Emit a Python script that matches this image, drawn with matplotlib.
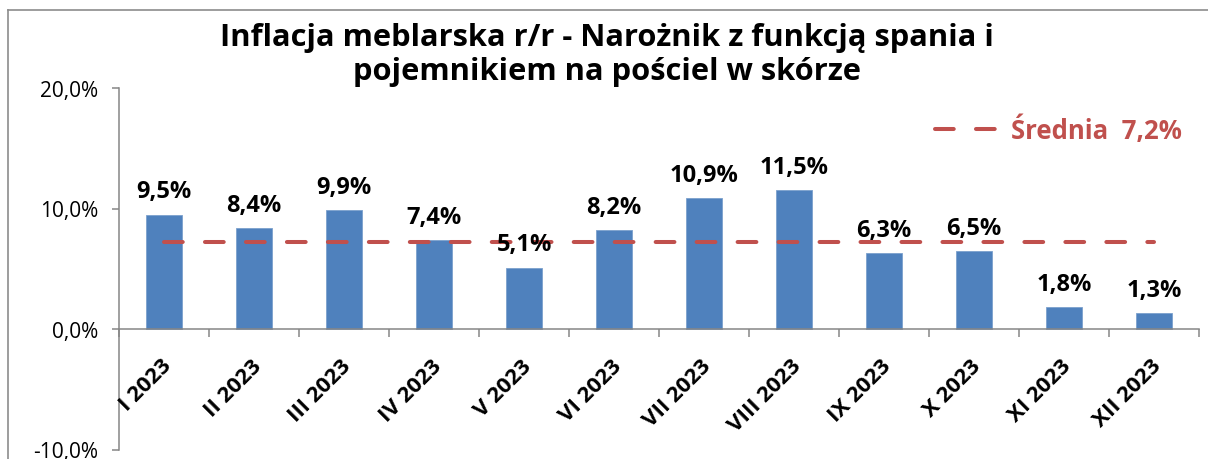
import numpy as np
import matplotlib
matplotlib.use("Agg")
import matplotlib.pyplot as plt
from matplotlib.lines import Line2D

categories = ["I 2023", "II 2023", "III 2023", "IV 2023", "V 2023", "VI 2023",
              "VII 2023", "VIII 2023", "IX 2023", "X 2023", "XI 2023", "XII 2023"]
values = [9.5, 8.4, 9.9, 7.4, 5.1, 8.2, 10.9, 11.5, 6.3, 6.5, 1.8, 1.3]
average = 7.2
yticks = [-10, 0, 10, 20]
title = "Inflacja meblarska r/r - Narożnik z funkcją spania i\npojemnikiem na pościel w skórze"

BLUE = "#4F81BD"
RED = "#C0504D"
GRAY = "#868686"

plt.rcParams['font.family'] = ['Open Sans', 'DejaVu Sans']
plt.rcParams['lines.scale_dashes'] = False

W, H = 1208, 460
fig = plt.figure(figsize=(W / 100, H / 100), dpi=100)
ax = fig.add_axes([119 / W, 1 - 450.5 / H, (1199 - 119) / W, (450.5 - 89) / H])

x = np.arange(len(categories))
ax.bar(x, values, width=0.4, color=BLUE, edgecolor="#7BA0CD", linewidth=0.6, zorder=2)

line, = ax.plot([x[0], x[-1]], [average, average], color=RED, lw=2.9,
                dashes=(13.5, 16), dash_capstyle='round', zorder=3,
                label="Średnia  " + f"{average:.1f}".replace('.', ',') + "%")

for xi, v in zip(x, values):
    ax.annotate(f"{v:.1f}".replace('.', ',') + "%", (xi, v), xytext=(0, 8),
                textcoords='offset points', ha='center', va='bottom',
                fontsize=17, fontweight='bold', color='black', zorder=5)

ax.set_xlim(-0.5, len(categories) - 0.5)
ax.set_ylim(-10, 20)

ax.set_yticks(yticks)
ax.set_yticklabels([f"{t:.1f}".replace('.', ',') + "%" for t in yticks], fontsize=15)

# boundary tick marks; category labels drawn rotated at category centres
ax.set_xticks(np.arange(-0.5, len(categories), 1))
ax.set_xticklabels([])
ax.tick_params(axis='x', which='major', length=6, width=1.1, color=GRAY, direction='out')
ax.tick_params(axis='y', length=5, width=1.1, color=GRAY, direction='out', pad=10)
for xi, cat in zip(x, categories):
    ax.annotate(cat, (xi, 0), xytext=(3, -24), textcoords='offset points',
                rotation=45, rotation_mode='anchor', ha='right', va='center',
                fontsize=16, fontweight='bold', color='black', annotation_clip=False)

for s in ['top', 'right']:
    ax.spines[s].set_visible(False)
ax.spines['bottom'].set_position(('data', 0))
for s in ['bottom', 'left']:
    ax.spines[s].set_color(GRAY)
    ax.spines[s].set_linewidth(1.1)

leg = ax.legend(handles=[line], loc='center right',
                bbox_to_anchor=(1182 / W, 1 - 131 / H), bbox_transform=fig.transFigure,
                frameon=False, handlelength=2.4, handletextpad=0.55,
                borderpad=0, borderaxespad=0, labelcolor=RED,
                prop={'weight': 'bold', 'size': 18.5})

fig.text(607 / W, 1 - 55 / H, title, ha='center', va='center', fontsize=22.2,
         fontweight='bold', linespacing=1.15)

# outer chart border (top and left visible)
fig.add_artist(Line2D([8 / W, 1], [1 - 11 / H, 1 - 11 / H], transform=fig.transFigure,
                      color="#8C8C8C", lw=1.2))
fig.add_artist(Line2D([8 / W, 8 / W], [0, 1 - 11 / H], transform=fig.transFigure,
                      color="#8C8C8C", lw=1.2))

fig.savefig("out.png", dpi=100)
